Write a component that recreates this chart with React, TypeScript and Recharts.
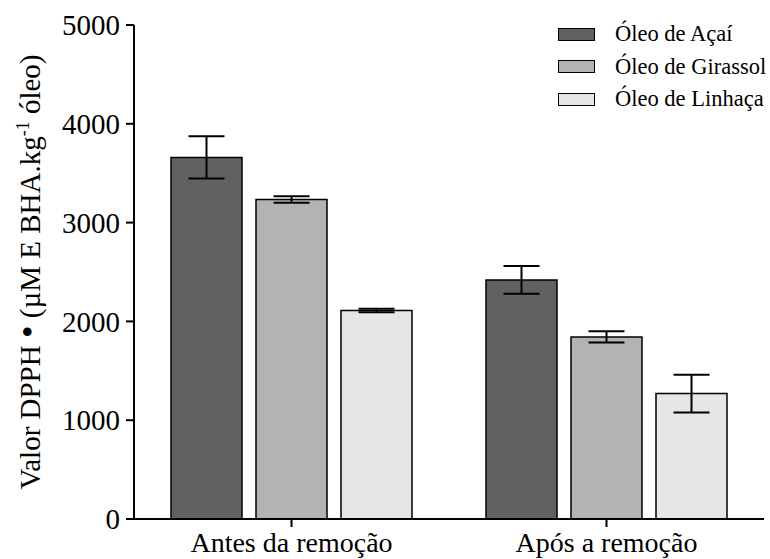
import React from "react";
import { BarChart, Bar, XAxis, YAxis, Legend, ErrorBar } from "recharts";

const categories = ["Antes da remoção", "Após a remoção"];
const acai = [3660, 2420];
const acaiErr = [213, 140];
const girassol = [3234, 1843];
const girassolErr = [32, 57];
const linhaca = [2110, 1269];
const linhacaErr = [18, 192];
const yTicks = [0, 1000, 2000, 3000, 4000, 5000];

const series = [
  { key: "acai", name: "Óleo de Açaí", fill: "#616161" },
  { key: "girassol", name: "Óleo de Girassol", fill: "#b3b3b3" },
  { key: "linhaca", name: "Óleo de Linhaça", fill: "#e6e6e6" },
];

const data = categories.map((name, i) => ({
  name,
  acai: acai[i],
  acaiErr: acaiErr[i],
  girassol: girassol[i],
  girassolErr: girassolErr[i],
  linhaca: linhaca[i],
  linhacaErr: linhacaErr[i],
}));

const FONT = '"Liberation Serif", "Times New Roman", serif';

const renderLegend = (props: any) => {
  const { payload = [] } = props;
  return (
    <div style={{ fontFamily: FONT }}>
      {payload.map((entry: any) => {
        const s = series.find((x) => x.name === entry.value);
        return (
          <div
            key={entry.value}
            style={{ display: "flex", alignItems: "center", height: 32.5 }}
          >
            <span
              style={{
                display: "inline-block",
                width: 37,
                height: 13,
                boxSizing: "border-box",
                border: "1.5px solid #000",
                background: s ? s.fill : entry.color,
                marginRight: 20,
              }}
            />
            <span style={{ fontSize: 22.5, color: "#000" }}>{entry.value}</span>
          </div>
        );
      })}
    </div>
  );
};

const YTitle = (props: any) => {
  const vb = props.viewBox || { x: 0, y: 25, width: 134, height: 494 };
  const cx = vb.x + 40;
  const cy = vb.y + vb.height / 2;
  return (
    <text
      x={cx}
      y={cy}
      transform={`rotate(-90 ${cx} ${cy})`}
      textAnchor="middle"
      fontFamily={FONT}
      fontSize={29}
      fill="#000"
    >
      Valor DPPH <tspan fontSize={36}>•</tspan> (µM E BHA.kg
      <tspan dy={-11} fontSize={18}>
        -1
      </tspan>
      <tspan dy={11}> óleo)</tspan>
    </text>
  );
};

const App: React.FC = () => {
  return (
    <div style={{ position: "absolute", left: 0, top: 0, background: "#fff" }}>
      <BarChart
        width={770}
        height={559}
        data={data}
        margin={{ top: 25, right: 6, bottom: 0, left: 0 }}
        barSize={71}
        barGap={14}
      >
        <XAxis
          dataKey="name"
          height={40}
          tickSize={8}
          tickMargin={5}
          axisLine={{ stroke: "#000", strokeWidth: 2 }}
          tickLine={{ stroke: "#000", strokeWidth: 2 }}
          tick={{ fill: "#000", fontSize: 28, fontFamily: FONT }}
        />
        <YAxis
          width={134}
          domain={[0, 5000]}
          ticks={yTicks}
          tickSize={8}
          tickMargin={6}
          axisLine={{ stroke: "#000", strokeWidth: 2 }}
          tickLine={{ stroke: "#000", strokeWidth: 2 }}
          tick={{ fill: "#000", fontSize: 29, fontFamily: FONT }}
          label={<YTitle />}
        />
        <Legend
          layout="vertical"
          align="center"
          verticalAlign="middle"
          wrapperStyle={{ top: 18, left: 558, width: 212 }}
          content={renderLegend}
        />
        {series.map((s) => (
          <Bar
            key={s.key}
            dataKey={s.key}
            name={s.name}
            fill={s.fill}
            stroke="#000"
            strokeWidth={1.5}
            isAnimationActive={false}
          >
            <ErrorBar
              dataKey={s.key + "Err"}
              width={18}
              stroke="#000"
              strokeWidth={2}
              isAnimationActive={false}
            />
          </Bar>
        ))}
      </BarChart>
    </div>
  );
};

export default App;
